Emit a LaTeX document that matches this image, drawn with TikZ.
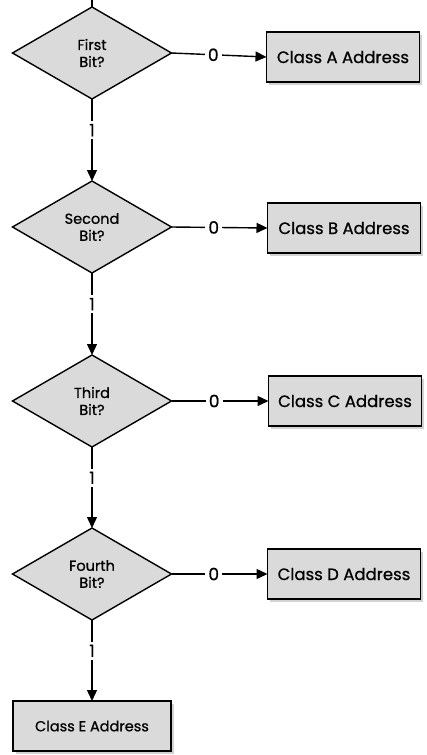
\documentclass[tikz,border=0pt]{standalone}
\usepackage{fontspec}
\setmainfont{Poppins}[FakeBold=0.7]
\usetikzlibrary{shapes.geometric,arrows.meta,shadows}
\begin{document}
\begin{tikzpicture}[x=1pt,y=-1pt,
  decision/.style={diamond, draw=black, line width=1.4pt, fill=boxgray, minimum width=159pt, minimum height=92pt, inner sep=0pt, outer sep=0pt, align=center, font=\fontsize{14.5}{17}\selectfont},
  classbox/.style={rectangle, draw=black, line width=1.8pt, fill=boxgray, minimum width=153pt, minimum height=50pt, inner sep=0pt, outer sep=0pt, font=\fontsize{16.5}{18}\selectfont, drop shadow={shadow xshift=2.5pt, shadow yshift=-3pt, fill=black!35, opacity=0.5}},
  conn/.style={line width=1.4pt, -{Triangle[length=11pt,width=10pt]}},
  lbl/.style={fill=white, inner sep=3pt, font=\fontsize{17}{18}\selectfont}
]
\definecolor{boxgray}{RGB}{218,218,218}
\useasboundingbox (0,0) rectangle (427,755);
\coordinate (top) at (92,0);
\node[decision] (d1) at (92,53) {First\\Bit?};
\node[decision] (d2) at (92,227) {Second\\Bit?};
\node[decision] (d3) at (92,401) {Third\\Bit?};
\node[decision] (d4) at (92,574) {Fourth\\Bit?};
\node[classbox] (ca) at (343,57) {Class A Address};
\node[classbox] (cb) at (344,228) {Class B Address};
\node[classbox] (cc) at (345,401) {Class C Address};
\node[classbox] (cd) at (344,574) {Class D Address};
\node[classbox, minimum width=158pt, font=\fontsize{14.5}{16}\selectfont] (ce) at (92,726) {Class E Address};
\draw[line width=1.4pt] (top) -- (d1.north);
\foreach \d/\c in {d1/ca,d2/cb,d3/cc,d4/cd}{
  \draw[conn] (\d.east) -- node[lbl, pos=0.44] {0} (\c.west);
}
\draw[conn] (d1.south) -- node[lbl, pos=0.38] {1} (d2.north);
\draw[conn] (d2.south) -- node[lbl, pos=0.38] {1} (d3.north);
\draw[conn] (d3.south) -- node[lbl, pos=0.38] {1} (d4.north);
\draw[conn] (d4.south) -- node[lbl, pos=0.38] {1} (ce.north);
\end{tikzpicture}
\end{document}
